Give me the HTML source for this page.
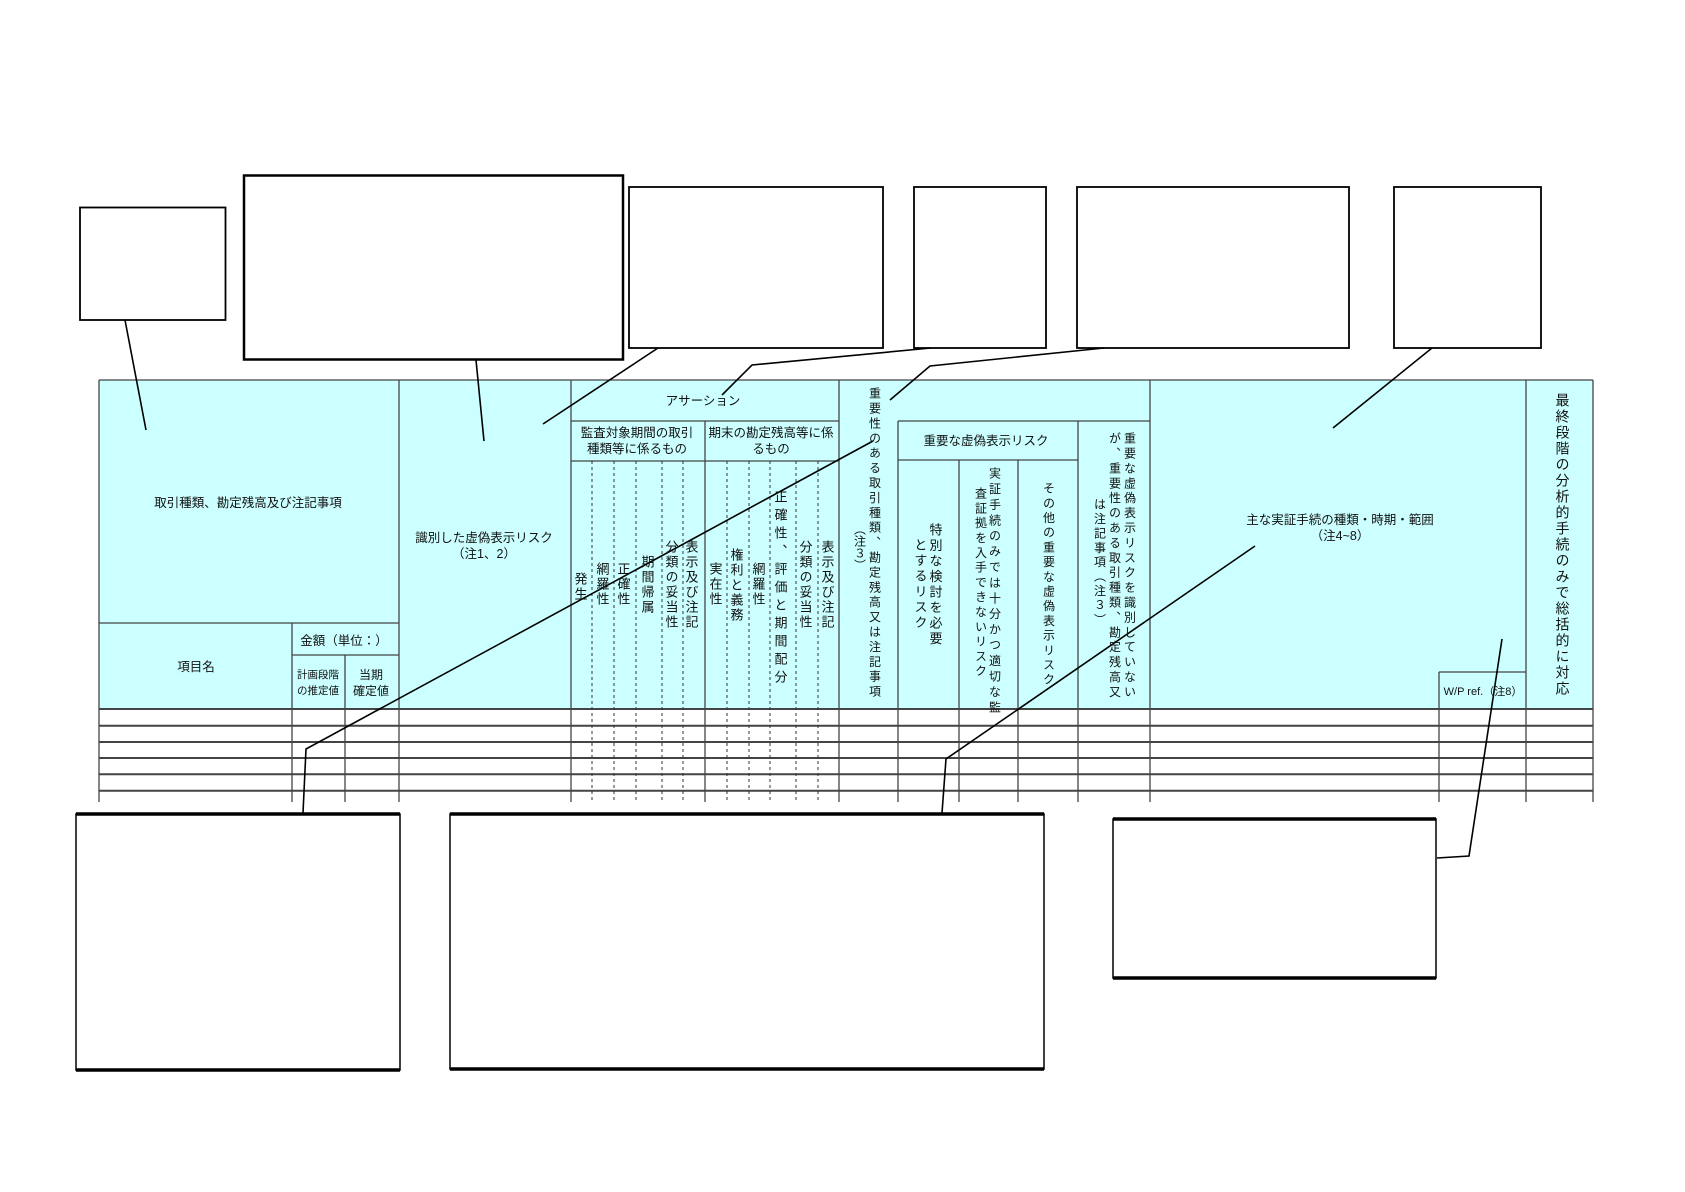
<!DOCTYPE html>
<html><head><meta charset="utf-8">
<style>
html,body{margin:0;padding:0;background:#fff;}
#wrap{position:relative;width:1685px;height:1192px;overflow:hidden;font-family:"Liberation Sans","Noto Sans CJK JP",sans-serif;color:#111;}
svg{position:absolute;left:0;top:0;}
.t{position:absolute;white-space:nowrap;font-size:12.5px;line-height:16px;text-align:center;transform:translateX(-50%);}
.v{position:absolute;writing-mode:vertical-rl;white-space:nowrap;font-size:13px;line-height:13px;transform:translateX(-50%);}
</style></head><body><div id="wrap">
<svg width="1685" height="1192" viewBox="0 0 1685 1192">
<rect x="99" y="380" width="1494" height="329" fill="#ccffff"/>
<g stroke="#444" stroke-width="1.3" fill="none">
<line x1="99" y1="380" x2="1593" y2="380"/>
<line x1="99" y1="709" x2="1593" y2="709" stroke-width="2"/>
<line x1="99" y1="725.7" x2="1593" y2="725.7" stroke-width="2"/>
<line x1="99" y1="742" x2="1593" y2="742" stroke-width="2"/>
<line x1="99" y1="758" x2="1593" y2="758" stroke-width="2"/>
<line x1="99" y1="774.3" x2="1593" y2="774.3" stroke-width="2"/>
<line x1="99" y1="790.7" x2="1593" y2="790.7" stroke-width="2"/>
<line x1="99" y1="623" x2="399" y2="623"/>
<line x1="292" y1="655" x2="399" y2="655"/>
<line x1="571" y1="421" x2="839" y2="421"/>
<line x1="571" y1="461" x2="839" y2="461"/>
<line x1="898" y1="421" x2="1150" y2="421"/>
<line x1="898" y1="460" x2="1078" y2="460"/>
<line x1="1439" y1="672" x2="1526" y2="672"/>
<line x1="99" y1="380" x2="99" y2="802"/>
<line x1="399" y1="380" x2="399" y2="802"/>
<line x1="571" y1="380" x2="571" y2="802"/>
<line x1="839" y1="380" x2="839" y2="802"/>
<line x1="1150" y1="380" x2="1150" y2="802"/>
<line x1="1526" y1="380" x2="1526" y2="802"/>
<line x1="1593" y1="380" x2="1593" y2="802"/>
<line x1="292" y1="623" x2="292" y2="802"/>
<line x1="345" y1="655" x2="345" y2="802"/>
<line x1="705" y1="421" x2="705" y2="802"/>
<line x1="898" y1="421" x2="898" y2="802"/>
<line x1="959" y1="460" x2="959" y2="802"/>
<line x1="1018" y1="460" x2="1018" y2="802"/>
<line x1="1078" y1="421" x2="1078" y2="802"/>
<line x1="1439" y1="672" x2="1439" y2="802"/>
</g>
<g stroke="#333" stroke-width="1" stroke-dasharray="3,3">
<line x1="592" y1="461" x2="592" y2="802"/>
<line x1="614" y1="461" x2="614" y2="802"/>
<line x1="636" y1="461" x2="636" y2="802"/>
<line x1="662" y1="461" x2="662" y2="802"/>
<line x1="683" y1="461" x2="683" y2="802"/>
<line x1="727" y1="461" x2="727" y2="802"/>
<line x1="749" y1="461" x2="749" y2="802"/>
<line x1="770" y1="461" x2="770" y2="802"/>
<line x1="796" y1="461" x2="796" y2="802"/>
<line x1="818" y1="461" x2="818" y2="802"/>
</g>
<g fill="none" stroke="#000">
<rect x="80" y="207.5" width="145.5" height="112.5" stroke-width="1.8"/>
<rect x="244" y="175.5" width="379" height="184" stroke-width="2.5"/>
<rect x="629" y="187" width="254" height="161" stroke-width="1.8"/>
<rect x="914" y="187" width="132" height="161" stroke-width="1.8"/>
<rect x="1077" y="187" width="272" height="161" stroke-width="1.8"/>
<rect x="1394" y="187" width="147" height="161" stroke-width="1.8"/>
<rect x="76" y="814" width="324" height="256" stroke-width="1.5"/>
<line x1="76" y1="814" x2="400" y2="814" stroke-width="3.5"/>
<line x1="76" y1="1070" x2="400" y2="1070" stroke-width="3.5"/>
<rect x="450" y="814" width="594" height="255" stroke-width="1.5"/>
<line x1="450" y1="814" x2="1044" y2="814" stroke-width="3.5"/>
<line x1="450" y1="1069" x2="1044" y2="1069" stroke-width="3.5"/>
<rect x="1113" y="819" width="323" height="159" stroke-width="1.5"/>
<line x1="1113" y1="819" x2="1436" y2="819" stroke-width="3.5"/>
<line x1="1113" y1="978" x2="1436" y2="978" stroke-width="3.5"/>
</g>
<g fill="none" stroke="#000" stroke-width="1.6">
<polyline points="125,320 146,430"/>
<polyline points="476,360 484,441"/>
<polyline points="658,348 543,424"/>
<polyline points="931,348 752,365 722,395"/>
<polyline points="1104,348 930,366 890,400"/>
<polyline points="1432,348 1333,428"/>
<polyline points="303,813 306,749 873,441"/>
<polyline points="942,813 946,759 1255,546"/>
<polyline points="1437,858 1469,856 1502,639"/>
</g>
</svg>

<div class="t" style="left:248px;top:495px;">取引種類、勘定残高及び注記事項</div>
<div class="t" style="left:484px;top:530px;">識別した虚偽表示リスク<br>（注1、2）</div>
<div class="t" style="left:196px;top:659px;">項目名</div>
<div class="t" style="left:344px;top:633px;">金額（単位：）</div>
<div class="t" style="left:318px;top:667px;font-size:10.5px;">計画段階<br>の推定値</div>
<div class="t" style="left:371px;top:667px;font-size:12px;">当期<br>確定値</div>
<div class="t" style="left:703px;top:393px;">アサーション</div>
<div class="t" style="left:637px;top:425px;">監査対象期間の取引<br>種類等に係るもの</div>
<div class="t" style="left:771px;top:425px;">期末の勘定残高等に係<br>るもの</div>
<div class="t" style="left:986px;top:433px;">重要な虚偽表示リスク</div>
<div class="t" style="left:1340px;top:512px;">主な実証手続の種類・時期・範囲<br>（注4~8）</div>
<div class="t" style="left:1483px;top:684px;font-size:11px;">W/P ref.（注8）</div>

<div class="v" style="left:580px;top:572px;letter-spacing:2px;">発生</div>
<div class="v" style="left:602px;top:562px;letter-spacing:2px;">網羅性</div>
<div class="v" style="left:623px;top:562px;letter-spacing:2px;">正確性</div>
<div class="v" style="left:647px;top:555px;letter-spacing:2px;">期間帰属</div>
<div class="v" style="left:671px;top:540px;letter-spacing:2px;">分類の妥当性</div>
<div class="v" style="left:691px;top:540px;letter-spacing:2px;">表示及び注記</div>
<div class="v" style="left:715px;top:562px;letter-spacing:2px;">実在性</div>
<div class="v" style="left:736px;top:548px;letter-spacing:2px;">権利と義務</div>
<div class="v" style="left:758px;top:562px;letter-spacing:2px;">網羅性</div>
<div class="v" style="left:780px;top:490px;letter-spacing:5px;">正確性、評価と期間配分</div>
<div class="v" style="left:805px;top:540px;letter-spacing:2px;">分類の妥当性</div>
<div class="v" style="left:827px;top:540px;letter-spacing:2px;">表示及び注記</div>

<div class="v" style="left:874px;top:387px;font-size:12px;letter-spacing:2.9px;">重要性のある取引種類、勘定残高又は注記事項</div>
<div class="v" style="left:859px;top:523px;font-size:12px;">（注３）</div>
<div class="v" style="left:935px;top:523px;letter-spacing:2.5px;">特別な検討を必要</div>
<div class="v" style="left:920px;top:538px;letter-spacing:2.5px;">とするリスク</div>
<div class="v" style="left:994px;top:467px;font-size:12px;letter-spacing:3.6px;">実証手続のみでは十分かつ適切な監</div>
<div class="v" style="left:980px;top:487px;font-size:12px;letter-spacing:2.8px;">査証拠を入手できないリスク</div>
<div class="v" style="left:1048px;top:482px;font-size:12px;letter-spacing:2.7px;">その他の重要な虚偽表示リスク</div>
<div class="v" style="left:1129px;top:432px;font-size:12px;letter-spacing:2.9px;">重要な虚偽表示リスクを識別していない</div>
<div class="v" style="left:1114px;top:432px;font-size:12px;letter-spacing:2.9px;">が、重要性のある取引種類、勘定残高又</div>
<div class="v" style="left:1099px;top:498px;font-size:12px;letter-spacing:2.4px;">は注記事項（注３）</div>
<div class="v" style="left:1562px;top:393px;font-size:14px;letter-spacing:2px;">最終段階の分析的手続のみで総括的に対応</div>
</div></body></html>
